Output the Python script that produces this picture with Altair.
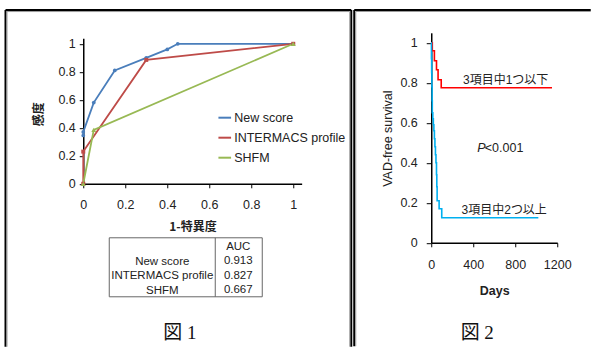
import altair as alt
import pandas as pd

# ---------------- data ----------------
series_names = ["New score", "INTERMACS profile", "SHFM"]
series_colors = ["#4a7ebb", "#be4b48", "#98b954"]
series_shapes = ["circle", "square", "triangle-up"]
series_marker_sizes = [14, 16, 24]
new_fpr = [0, 0, 0.05, 0.15, 0.3, 0.4, 0.45, 1]
new_tpr = [0.345, 0.37, 0.58, 0.81, 0.9, 0.96, 1, 1]
inter_fpr = [0, 0, 0.3, 1]
inter_tpr = [0, 0.23, 0.885, 1]
shfm_fpr = [0, 0.05, 1]
shfm_tpr = [0, 0.385, 1]
auc_header = "AUC"
auc_values = ["0.913", "0.827", "0.667"]
roc_ticks = [0, 0.2, 0.4, 0.6, 0.8, 1]

km_low_days = [0, 10, 30, 50, 65, 95, 1150]
km_low_surv = [1.0, 0.96, 0.91, 0.865, 0.815, 0.775, 0.775]
km_high_days = [0, 2, 4, 6, 8, 10, 15, 20, 25, 30, 35, 40, 45, 50, 53, 56, 75, 100, 1020]
km_high_surv = [1.0, 0.92, 0.85, 0.78, 0.71, 0.65, 0.62, 0.59, 0.56, 0.52, 0.48,
                0.44, 0.40, 0.34, 0.28, 0.21, 0.17, 0.125, 0.125]
km_names = ["3項目中1つ以下", "3項目中2つ以上"]
km_colors = ["#ff0000", "#00b0f0"]
km_label_days = [709, 695]
km_label_surv = [0.815, 0.165]
p_symbol = "P"
p_rest = "<0.001"
p_days = [438, 510]
p_surv = 0.475
days_ticks = [0, 400, 800, 1200]
surv_ticks = [0, 0.2, 0.4, 0.6, 0.8, 1]
captions = ["図 1", "図 2"]

SANS = "Liberation Sans"
CJK = "Noto Sans CJK JP"
MIXED = "Liberation Sans, Noto Sans CJK JP"
SERIF = "Liberation Serif, Noto Sans CJK JP"
TXT = "#222222"

# ---------------- tables ----------------
rows = []
for name, xs, ys in [(series_names[0], new_fpr, new_tpr),
                     (series_names[1], inter_fpr, inter_tpr),
                     (series_names[2], shfm_fpr, shfm_tpr)]:
    for i, (a, b) in enumerate(zip(xs, ys)):
        rows.append({"series": name, "fpr": a, "tpr": b, "idx": i})
roc_df = pd.DataFrame(rows)

km_rows = []
for name, xs, ys in [(km_names[0], km_low_days, km_low_surv),
                     (km_names[1], km_high_days, km_high_surv)]:
    for i, (a, b) in enumerate(zip(xs, ys)):
        km_rows.append({"group": name, "days": a, "surv": b, "idx": i})
km_df = pd.DataFrame(km_rows)
km_lab_df = pd.DataFrame({"days": km_label_days, "surv": km_label_surv, "text": km_names})
p_sym_df = pd.DataFrame({"days": [p_days[0]], "surv": [p_surv], "text": [p_symbol]})
p_rest_df = pd.DataFrame({"days": [p_days[1]], "surv": [p_surv], "text": [p_rest]})

one = pd.DataFrame({"k": [0]})

def rule(x, y, x2=None, y2=None, color="#000000", width=2.0):
    enc = {"x": alt.value(x), "y": alt.value(y)}
    if x2 is not None:
        enc["x2"] = alt.value(x2)
    if y2 is not None:
        enc["y2"] = alt.value(y2)
    return alt.Chart(one).mark_rule(color=color, strokeWidth=width).encode(**enc)

# ---------------- left panel (ROC) ----------------
xs_roc = alt.Scale(domain=[0, 1.04], nice=False, zero=False)
ys_roc = alt.Scale(domain=[0, 1.04], nice=False, zero=False)

x_axis_roc = alt.Axis(values=roc_ticks, format="~g", grid=False, domainColor="#000",
                      domainWidth=1.5, tickColor="#000", tickSize=4, labelPadding=10.5,
                      labelFontSize=12.5, labelFont=SANS, labelColor=TXT, labelFlush=False,
                      labelOverlap=False,
                      title="1-特異度", titleFont=CJK, titleFontSize=12, titleFontWeight="bold",
                      titleColor=TXT, titleY=43, titleBaseline="middle")
y_axis_roc = alt.Axis(values=roc_ticks, format="~g", grid=False, domainColor="#000",
                      domainWidth=1.5, tickColor="#000", tickSize=4, labelPadding=4,
                      labelFontSize=12.5, labelFont=SANS, labelColor=TXT, labelFlush=False,
                      labelOverlap=False,
                      title="感度", titleFont=CJK, titleFontSize=12, titleFontWeight="bold",
                      titleColor=TXT, titleX=-45, titleY=75.6, titleBaseline="middle")

color_roc = alt.Color("series:N", scale=alt.Scale(domain=series_names, range=series_colors),
                      legend=alt.Legend(orient="none", legendX=134, legendY=72, title=None,
                                        symbolType="stroke", symbolSize=160, symbolStrokeWidth=2,
                                        labelFontSize=12.5, labelFont=SANS, labelColor=TXT,
                                        rowPadding=6, labelOffset=2, padding=0))

roc_lines = alt.Chart(roc_df).mark_line(strokeWidth=1.8).encode(
    x=alt.X("fpr:Q", scale=xs_roc, axis=x_axis_roc),
    y=alt.Y("tpr:Q", scale=ys_roc, axis=y_axis_roc),
    color=color_roc,
    order="idx:Q",
)
roc_points = [
    alt.Chart(roc_df).transform_filter(alt.datum.series == nm).mark_point(
        filled=True, shape=shp, size=sz, color=col, opacity=1).encode(
        x=alt.X("fpr:Q", scale=xs_roc, axis=x_axis_roc),
        y=alt.Y("tpr:Q", scale=ys_roc, axis=y_axis_roc),
    )
    for nm, shp, sz, col in zip(series_names, series_shapes, series_marker_sizes, series_colors)
]

table_box = alt.Chart(one).mark_rect(fillOpacity=0, stroke="#666666", strokeWidth=1).encode(
    x=alt.value(26), x2=alt.value(179), y=alt.value(199.6), y2=alt.value(258.6))
table_div = rule(132, 199.6, y2=258.6, color="#666666", width=1)
table_names = alt.Chart(pd.DataFrame({"t": ["\n".join(series_names)]})).mark_text(
    font=SANS, fontSize=11.5, color=TXT, align="center", baseline="top",
    lineBreak="\n", lineHeight=14.5).encode(x=alt.value(79), y=alt.value(217.7), text="t:N")
table_vals = alt.Chart(pd.DataFrame({"t": ["\n".join([auc_header] + auc_values)]})).mark_text(
    font=SANS, fontSize=11.5, color=TXT, align="center", baseline="top",
    lineBreak="\n", lineHeight=14.5).encode(x=alt.value(155), y=alt.value(202.7), text="t:N")

cap1 = alt.Chart(pd.DataFrame({"t": [captions[0]]})).mark_text(
    font=SERIF, fontSize=19, color="#111", align="center", baseline="middle").encode(
    x=alt.value(96.5), y=alt.value(294.6), text="t:N")

left_frame = [
    rule(-77.75, -28.15, y2=308.5),
    rule(-77.75, -28.15, x2=268),
    rule(268, -28.15, y2=308.5),
    rule(-76.25, -26.65, y2=308.5, color="#9a9a9a", width=1),
    rule(-76.25, -26.65, x2=266.5, color="#9a9a9a", width=1),
    rule(266.5, -26.65, y2=308.5, color="#9a9a9a", width=1),
]

left = alt.layer(*left_frame, roc_lines, *roc_points, table_box, table_div,
                 table_names, table_vals, cap1).properties(width=218.4, height=145.6)

# ---------------- right panel (KM) ----------------
# view top is aligned with the left view (abs y 37.4); axis extends above it
KM_H = 204.6
xs_km = alt.Scale(domain=[0, 1200], nice=False, zero=False)
ys_km = alt.Scale(domain=[0, 1.05], nice=False, zero=False, range=[KM_H, -5.4])

x_axis_km = alt.Axis(values=days_ticks, format="d", grid=False, domainColor="#000",
                     domainWidth=1.5, tickColor="#000", tickSize=4, labelPadding=11.5,
                     labelFontSize=12.5, labelFont=SANS, labelColor=TXT, labelFlush=False,
                     labelOverlap=False,
                     title="Days", titleFont=SANS, titleFontSize=12.5, titleFontWeight="bold",
                     titleColor=TXT, titleY=48, titleBaseline="middle")
y_axis_km = alt.Axis(values=surv_ticks, format="~g", grid=False, domainColor="#000",
                     domainWidth=1.5, tickColor="#000", tickSize=5, labelPadding=9,
                     labelFontSize=12.5, labelFont=SANS, labelColor=TXT, labelFlush=False,
                     labelOverlap=False,
                     title="VAD-free survival", titleFont=SANS, titleFontSize=12.5,
                     titleFontWeight="normal", titleColor=TXT, titleX=-44, titleY=100,
                     titleBaseline="middle")

km_lines = alt.Chart(km_df).mark_line(strokeWidth=1.6, interpolate="step-after").encode(
    x=alt.X("days:Q", scale=xs_km, axis=x_axis_km),
    y=alt.Y("surv:Q", scale=ys_km, axis=y_axis_km),
    color=alt.Color("group:N", scale=alt.Scale(domain=km_names, range=km_colors), legend=None),
    order="idx:Q",
)
km_labels = alt.Chart(km_lab_df).mark_text(font=MIXED, fontSize=12, color=TXT,
                                           align="center", baseline="middle").encode(
    x=alt.X("days:Q", scale=xs_km, axis=x_axis_km), y=alt.Y("surv:Q", scale=ys_km, axis=y_axis_km),
    text="text:N")
p_sym = alt.Chart(p_sym_df).mark_text(font=SANS, fontSize=12.5, color=TXT, fontStyle="italic",
                                      align="left", baseline="middle").encode(
    x=alt.X("days:Q", scale=xs_km, axis=x_axis_km), y=alt.Y("surv:Q", scale=ys_km, axis=y_axis_km),
    text="text:N")
p_txt = alt.Chart(p_rest_df).mark_text(font=SANS, fontSize=12.5, color=TXT,
                                       align="left", baseline="middle").encode(
    x=alt.X("days:Q", scale=xs_km, axis=x_axis_km), y=alt.Y("surv:Q", scale=ys_km, axis=y_axis_km),
    text="text:N")

cap2 = alt.Chart(pd.DataFrame({"t": [captions[1]]})).mark_text(
    font=SERIF, fontSize=19, color="#111", align="center", baseline="middle").encode(
    x=alt.value(46), y=alt.value(294.6), text="t:N")

right_frame = [
    rule(-77, -28.2, y2=308),
    rule(-77, -28.2, x2=159.5),
    rule(-75.5, -26.7, y2=308, color="#9a9a9a", width=1),
    rule(-75.5, -26.7, x2=159.5, color="#9a9a9a", width=1),
]

right = alt.layer(*right_frame, km_lines, km_labels, p_sym, p_txt, cap2).properties(
    width=126, height=KM_H)

chart = alt.hconcat(left, right, spacing=1).resolve_scale(
    color="independent"
).properties(
    padding={"left": 4.25, "top": 8.2, "right": 0, "bottom": 0},
    background="white",
).configure_view(strokeWidth=0)

chart.save("out.html", embed_options={"renderer": "svg", "actions": False})
